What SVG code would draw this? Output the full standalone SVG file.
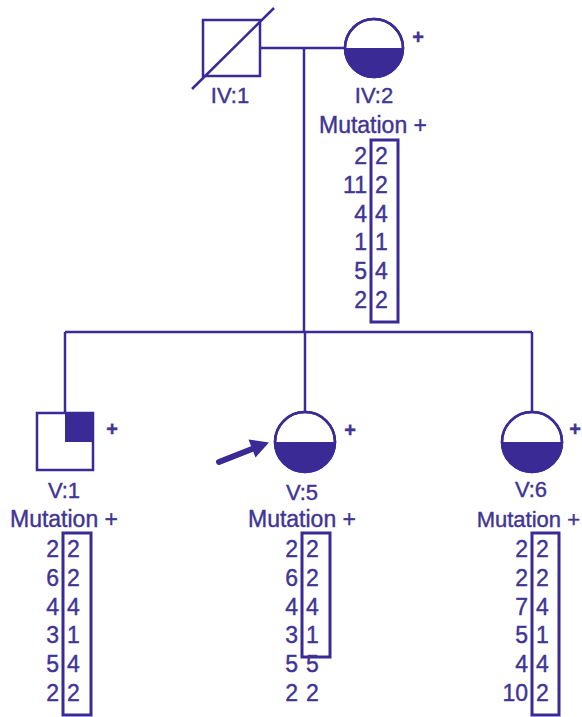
<svg xmlns="http://www.w3.org/2000/svg" width="582" height="717" viewBox="0 0 582 717">
  <style>
    .ln { stroke: #3a2a96; stroke-width: 2.5; fill: none; }
    .sym { stroke: #3a2a96; stroke-width: 2.5; fill: #ffffff; }
    .fill { fill: #3a2a96; stroke: none; }
    .box { stroke: #3a2a96; stroke-width: 3; fill: none; }
    text { font-family: "Liberation Sans", Arial, sans-serif; fill: #3f3594; stroke: #3f3594; stroke-width: 0.4; }
    .lbl { font-size: 22px; text-anchor: middle; }
    .mut { font-size: 23px; text-anchor: middle; }
    .plus { font-size: 20px; font-weight: bold; text-anchor: middle; }
    .l { font-size: 23px; text-anchor: end; }
    .r { font-size: 23px; text-anchor: start; }
  </style>
  <rect width="582" height="717" fill="#ffffff"/>

  <g id="connectors">
    <line class="ln" x1="260" y1="48" x2="345" y2="48"/>
    <line class="ln" x1="304" y1="48" x2="304" y2="332"/>
    <line class="ln" x1="65" y1="332" x2="532" y2="332"/>
    <line class="ln" x1="65" y1="332" x2="65" y2="413"/>
    <line class="ln" x1="305" y1="332" x2="305" y2="412"/>
    <line class="ln" x1="532" y1="332" x2="532" y2="412"/>
  </g>

  <g id="IV1">
    <rect class="sym" x="203" y="20" width="57" height="56"/>
    <line class="ln" x1="192" y1="89" x2="274" y2="8"/>
    <text class="lbl" x="230" y="103">IV:1</text>
  </g>

  <g id="IV2">
    <circle class="sym" cx="374" cy="48" r="29"/>
    <path class="fill" d="M345,48 A29,29 0 0 0 403,48 Z"/>
    <circle class="ln" cx="374" cy="48" r="29"/>
    <text class="plus" x="418" y="44">+</text>
    <text class="lbl" x="374" y="103">IV:2</text>
    <text class="mut" x="373" y="133">Mutation +</text>
    <rect class="box" x="371" y="140" width="27" height="182"/>
    <text class="l" x="367" y="164">2</text><text class="r" x="375" y="164">2</text>
    <text class="l" x="367" y="193">11</text><text class="r" x="375" y="193">2</text>
    <text class="l" x="367" y="222">4</text><text class="r" x="375" y="222">4</text>
    <text class="l" x="367" y="250">1</text><text class="r" x="375" y="250">1</text>
    <text class="l" x="367" y="279">5</text><text class="r" x="375" y="279">4</text>
    <text class="l" x="367" y="308">2</text><text class="r" x="375" y="308">2</text>
  </g>

  <g id="V1">
    <rect class="sym" x="37" y="413" width="56" height="57"/>
    <rect class="fill" x="65" y="413" width="28" height="29"/>
    <text class="plus" x="112" y="436">+</text>
    <text class="lbl" x="64" y="498">V:1</text>
    <text class="mut" x="64" y="527">Mutation +</text>
    <rect class="box" x="63" y="533" width="28" height="182"/>
    <text class="l" x="59" y="557">2</text><text class="r" x="67" y="557">2</text>
    <text class="l" x="59" y="586">6</text><text class="r" x="67" y="586">2</text>
    <text class="l" x="59" y="615">4</text><text class="r" x="67" y="615">4</text>
    <text class="l" x="59" y="643">3</text><text class="r" x="67" y="643">1</text>
    <text class="l" x="59" y="672">5</text><text class="r" x="67" y="672">4</text>
    <text class="l" x="59" y="701">2</text><text class="r" x="67" y="701">2</text>
  </g>

  <g id="V5">
    <circle class="sym" cx="305" cy="442" r="30"/>
    <path class="fill" d="M275,442 A30,30 0 0 0 335,442 Z"/>
    <circle class="ln" cx="305" cy="442" r="30"/>
    <text class="plus" x="350" y="437">+</text>
    <line x1="219" y1="462" x2="252" y2="449" stroke="#3a2a96" stroke-width="6" stroke-linecap="round"/>
    <polygon class="fill" points="269,442.5 255.5,457.5 248.5,439.5"/>
    <text class="lbl" x="302" y="500">V:5</text>
    <text class="mut" x="302" y="527">Mutation +</text>
    <rect class="box" x="302" y="533" width="28" height="124"/>
    <text class="l" x="298" y="557">2</text><text class="r" x="306" y="557">2</text>
    <text class="l" x="298" y="586">6</text><text class="r" x="306" y="586">2</text>
    <text class="l" x="298" y="615">4</text><text class="r" x="306" y="615">4</text>
    <text class="l" x="298" y="643">3</text><text class="r" x="306" y="643">1</text>
    <text class="l" x="298" y="672">5</text><text class="r" x="306" y="672">5</text>
    <text class="l" x="298" y="701">2</text><text class="r" x="306" y="701">2</text>
  </g>

  <g id="V6">
    <circle class="sym" cx="532" cy="442" r="30"/>
    <path class="fill" d="M502,442 A30,30 0 0 0 562,442 Z"/>
    <circle class="ln" cx="532" cy="442" r="30"/>
    <text class="plus" x="575" y="436">+</text>
    <text class="lbl" x="531" y="497">V:6</text>
    <text class="mut" x="580" y="527" style="text-anchor:end;font-size:22px">Mutation +</text>
    <rect class="box" x="532" y="533" width="27" height="182"/>
    <text class="l" x="528" y="557">2</text><text class="r" x="536" y="557">2</text>
    <text class="l" x="528" y="586">2</text><text class="r" x="536" y="586">2</text>
    <text class="l" x="528" y="615">7</text><text class="r" x="536" y="615">4</text>
    <text class="l" x="528" y="643">5</text><text class="r" x="536" y="643">1</text>
    <text class="l" x="528" y="672">4</text><text class="r" x="536" y="672">4</text>
    <text class="l" x="528" y="701">10</text><text class="r" x="536" y="701">2</text>
  </g>
</svg>
